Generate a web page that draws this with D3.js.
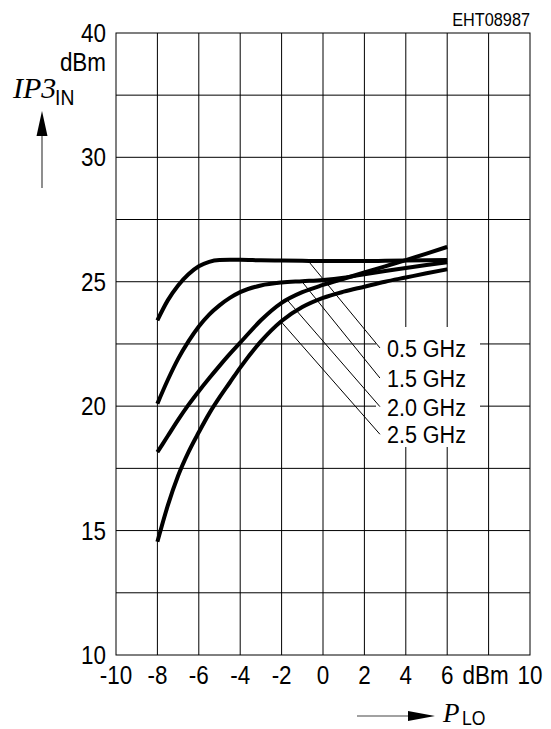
<!DOCTYPE html>
<html>
<head>
<meta charset="utf-8">
<script src="https://cdn.jsdelivr.net/npm/d3@7"></script>
<style>
  body { margin: 0; background: #fff; }
  svg { display: block; }
  text { font-family: "Liberation Sans", Arial, sans-serif; fill: #000; }
  .serif { font-family: "Liberation Serif", "DejaVu Serif", serif; font-style: italic; }
</style>
</head>
<body>
<script>
// x values (P_LO, dBm) shared by the curves
var lo = [-8, -7.5, -7, -6.5, -6, -5.5, -5, -4.5, -4, -3, -2, -1, 0, 1, 2, 3, 4, 5, 6];

// IP3_IN (dBm) per frequency
var ip3_05 = [23.45, 24.25, 24.85, 25.3, 25.62, 25.8, 25.87, 25.88, 25.88, 25.86, 25.85, 25.84, 25.83, 25.83, 25.83, 25.84, 25.85, 25.86, 25.87];
var ip3_15 = [20.1, 21.05, 21.9, 22.6, 23.2, 23.68, 24.05, 24.35, 24.58, 24.85, 24.97, 25.02, 25.07, 25.16, 25.3, 25.43, 25.55, 25.67, 25.78];
var ip3_20 = [18.15, 18.8, 19.45, 20.05, 20.6, 21.12, 21.62, 22.1, 22.55, 23.45, 24.15, 24.58, 24.87, 25.12, 25.37, 25.62, 25.87, 26.13, 26.4];
var ip3_25 = [14.55, 16.0, 17.2, 18.15, 18.95, 19.7, 20.35, 20.95, 21.55, 22.6, 23.42, 23.98, 24.35, 24.6, 24.8, 25.0, 25.17, 25.34, 25.5];

var freqLabels = ["0.5 GHz", "1.5 GHz", "2.0 GHz", "2.5 GHz"];
// leader line start on each curve and end near the label, data units
var leaderFrom = [[-0.72, 25.84], [-1.03, 25.02], [-1.74, 24.28], [-2.03, 23.4]];
var leaderTo = [[2.75, 22.34], [2.75, 21.13], [2.75, 19.98], [2.75, 18.87]];

var xTicks = [-10, -8, -6, -4, -2, 0, 2, 4, 6, 8, 10];
var xTickLabels = ["-10", "-8", "-6", "-4", "-2", "0", "2", "4", "6", "dBm", "10"];
var yTicks = [10, 15, 20, 25, 30, 40];
var yGrid = [12.5, 15, 17.5, 20, 22.5, 25, 27.5, 30, 35];

var width = 551, height = 729;
var margin = {left: 116, top: 33, right: 21, bottom: 74};
var narrow = 0.88; // the drawing uses a condensed sans

var svg = d3.select("body").append("svg")
    .attr("width", width)
    .attr("height", height);

var xScale = d3.scaleLinear().domain([-10, 10]).range([margin.left, width - margin.right]);
// the axis is compressed above 30 dBm: 30..40 takes the room of 5 dB
var yScale = d3.scaleLinear().domain([10, 30, 40]).range([height - margin.bottom, 157.3, margin.top]);

// condensed text helper
function label(parent, x, y, str, size, anchor) {
    return parent.append("text")
        .attr("transform", "translate(" + x + "," + y + ") scale(" + narrow + ",1)")
        .attr("text-anchor", anchor || "start")
        .attr("font-size", size)
        .text(str);
}

// grid
svg.append("g")
    .selectAll("line")
    .data(xTicks.slice(1, -1))
    .enter().append("line")
    .attr("x1", function(d){ return xScale(d); })
    .attr("x2", function(d){ return xScale(d); })
    .attr("y1", yScale(10))
    .attr("y2", yScale(40))
    .attr("stroke", "#000").attr("stroke-width", 1);

svg.append("g")
    .selectAll("line")
    .data(yGrid)
    .enter().append("line")
    .attr("x1", xScale(-10))
    .attr("x2", xScale(10))
    .attr("y1", function(d){ return yScale(d); })
    .attr("y2", function(d){ return yScale(d); })
    .attr("stroke", "#000").attr("stroke-width", 1);

svg.append("rect")
    .attr("x", xScale(-10)).attr("y", yScale(40))
    .attr("width", xScale(10) - xScale(-10))
    .attr("height", yScale(10) - yScale(40))
    .attr("fill", "none").attr("stroke", "#000").attr("stroke-width", 1);

// white box behind the frequency labels
svg.append("rect")
    .attr("x", 376).attr("y", 327)
    .attr("width", 104).attr("height", 120)
    .attr("fill", "#fff");

// curves
var series = [ip3_05, ip3_15, ip3_20, ip3_25];
var line = d3.line()
    .x(function(d){ return xScale(d[0]); })
    .y(function(d){ return yScale(d[1]); })
    .curve(d3.curveMonotoneX);

svg.append("g").selectAll("path")
    .data(series)
    .enter().append("path")
    .attr("d", function(s){ return line(lo.map(function(x, i){ return [x, s[i]]; })); })
    .attr("fill", "none")
    .attr("stroke", "#000")
    .attr("stroke-width", 4);

// leaders and labels
var ann = svg.append("g");
ann.selectAll("line")
    .data(freqLabels)
    .enter().append("line")
    .attr("x1", function(d, i){ return xScale(leaderFrom[i][0]); })
    .attr("y1", function(d, i){ return yScale(leaderFrom[i][1]); })
    .attr("x2", function(d, i){ return xScale(leaderTo[i][0]); })
    .attr("y2", function(d, i){ return yScale(leaderTo[i][1]); })
    .attr("stroke", "#000").attr("stroke-width", 1);

freqLabels.forEach(function(d, i){
    label(ann, xScale(leaderTo[i][0]) + 7, yScale(leaderTo[i][1]) + 9, d, 24.5);
});

// tick labels
var tl = svg.append("g");
yTicks.forEach(function(d){
    label(tl, xScale(-10) - 10, yScale(d) + 9, d, 25.5, "end");
});
label(tl, xScale(-10) - 10, 71, "dBm", 25.5, "end");

xTicks.forEach(function(d, i){
    var shift = (i === xTicks.length - 1) ? 0 : (i === xTicks.length - 2 ? -3 : 0);
    label(tl, xScale(d) + shift, 684, xTickLabels[i], 25.5, "middle");
});

label(svg, 530, 26, "EHT08987", 18.5, "end");

// axis titles
svg.append("text").attr("class", "serif")
    .attr("x", 13).attr("y", 98)
    .attr("font-size", 30)
    .text("IP3");
label(svg, 55, 105, "IN", 22);

svg.append("line")
    .attr("x1", 42).attr("x2", 42).attr("y1", 188).attr("y2", 134)
    .attr("stroke", "#444").attr("stroke-width", 1.2);
svg.append("path")
    .attr("d", "M42,111 L36.5,136 L47.5,136 Z")
    .attr("fill", "#000");

svg.append("line")
    .attr("x1", 357).attr("x2", 410).attr("y1", 716).attr("y2", 716)
    .attr("stroke", "#444").attr("stroke-width", 1.2);
svg.append("path")
    .attr("d", "M435,716 L408,711 L408,721 Z")
    .attr("fill", "#000");

svg.append("text").attr("class", "serif")
    .attr("x", 443).attr("y", 722)
    .attr("font-size", 27)
    .text("P");
label(svg, 462, 725, "LO", 20);
</script>
</body>
</html>
